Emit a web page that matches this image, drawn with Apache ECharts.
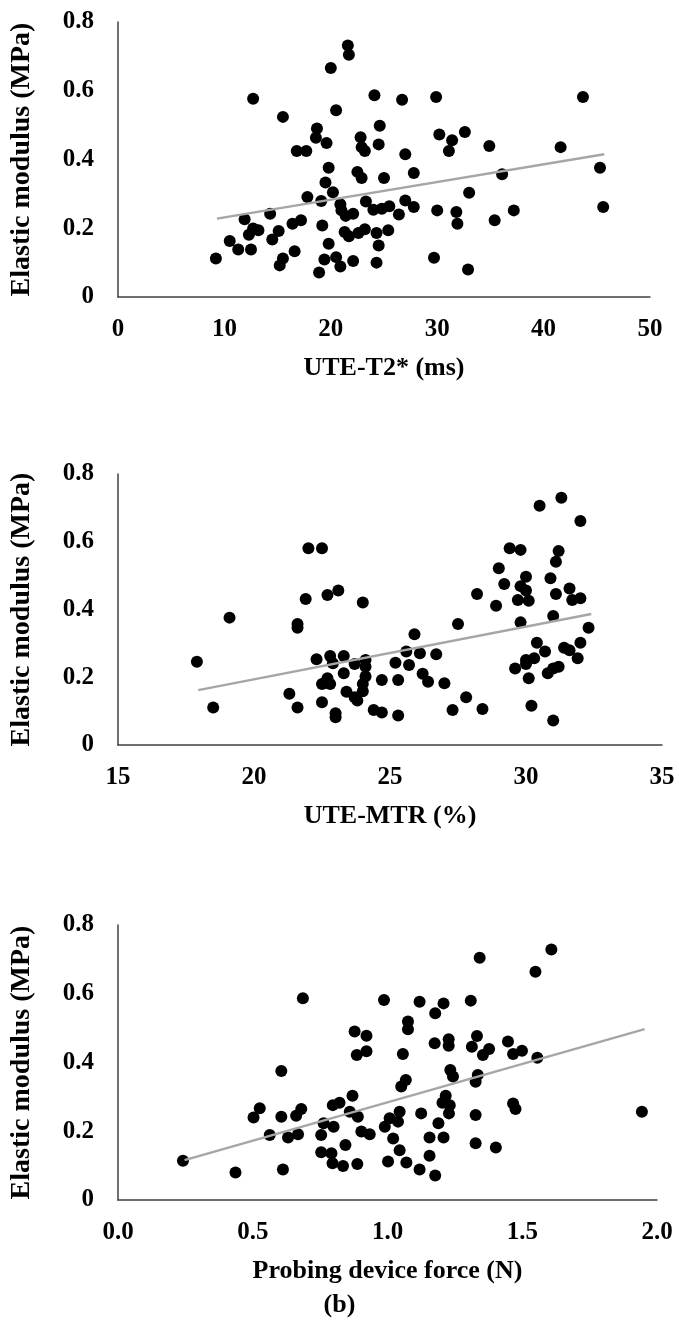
<!DOCTYPE html>
<html>
<head>
<meta charset="utf-8">
<title>Elastic modulus</title>
<script src="https://cdn.jsdelivr.net/npm/echarts@6/dist/echarts.min.js"></script>
<style>
    html, body { margin: 0; padding: 0; background: #fff; }
    #main { width: 679px; height: 1324px; }
</style>
</head>
<body>
<div id="main"></div>
<script>
// panel 1: UTE-T2* (ms) vs elastic modulus
var t2Points = [
    [21.6, 0.732], [21.7, 0.705], [20.0, 0.666], [12.7, 0.577], [24.1, 0.587], [20.5, 0.543],
    [15.5, 0.524], [24.6, 0.498], [18.7, 0.490], [18.6, 0.463], [19.6, 0.448], [16.8, 0.425],
    [17.7, 0.425], [22.8, 0.465], [22.9, 0.436], [23.2, 0.425], [24.5, 0.444], [19.8, 0.376],
    [22.5, 0.364], [22.9, 0.346], [25.0, 0.346], [19.5, 0.333], [20.2, 0.305], [17.8, 0.291],
    [19.1, 0.279], [20.9, 0.270], [21.0, 0.252], [21.4, 0.236], [22.1, 0.242], [23.3, 0.278],
    [24.0, 0.254], [24.8, 0.257], [25.5, 0.264], [11.9, 0.226], [14.3, 0.242], [16.4, 0.213],
    [17.2, 0.223], [19.2, 0.208], [21.3, 0.189], [21.7, 0.177], [22.6, 0.186], [23.2, 0.197],
    [24.3, 0.186], [25.4, 0.194], [12.7, 0.199], [13.2, 0.194], [12.3, 0.181], [15.1, 0.192],
    [14.5, 0.167], [10.5, 0.163], [11.3, 0.138], [12.5, 0.138], [19.8, 0.155], [24.5, 0.150],
    [9.2, 0.112], [16.6, 0.133], [15.5, 0.112], [15.2, 0.092], [19.4, 0.109], [20.5, 0.116],
    [20.9, 0.089], [22.1, 0.105], [24.3, 0.100], [18.9, 0.071],
    [26.7, 0.574], [29.9, 0.582], [43.7, 0.582], [30.2, 0.473], [31.4, 0.456], [31.1, 0.425],
    [32.6, 0.480], [27.0, 0.415], [34.9, 0.439], [41.6, 0.436], [27.8, 0.361], [36.1, 0.357],
    [45.3, 0.376], [33.0, 0.303], [26.4, 0.240], [27.0, 0.281], [27.8, 0.262], [30.0, 0.252],
    [31.8, 0.247], [31.9, 0.213], [35.4, 0.223], [37.2, 0.252], [45.6, 0.262], [29.7, 0.114],
    [32.9, 0.080]
];
var t2Trend = [[9.3, 0.228], [45.7, 0.415]];

// panel 2: UTE-MTR (%)
var mtrPoints = [
    [22.0, 0.581], [22.5, 0.581], [21.9, 0.431], [22.7, 0.443], [23.1, 0.456], [24.0, 0.421],
    [19.1, 0.376], [21.6, 0.357], [21.6, 0.346], [17.9, 0.246], [22.3, 0.253], [22.8, 0.263],
    [23.3, 0.263], [24.1, 0.251], [22.9, 0.241], [23.3, 0.212], [23.7, 0.239], [22.7, 0.197],
    [22.5, 0.180], [22.8, 0.180], [24.1, 0.231], [24.1, 0.202], [24.0, 0.180], [24.0, 0.159],
    [23.4, 0.157], [23.7, 0.141], [23.8, 0.131], [24.7, 0.192], [18.5, 0.111], [21.3, 0.151],
    [21.6, 0.111], [22.5, 0.126], [23.0, 0.094], [23.0, 0.082], [24.4, 0.103], [24.7, 0.096],
    [31.3, 0.730], [30.5, 0.706], [32.0, 0.661], [29.4, 0.581], [29.8, 0.576], [31.2, 0.573],
    [31.1, 0.541], [29.0, 0.522], [29.2, 0.475], [30.0, 0.497], [29.8, 0.469], [30.0, 0.456],
    [30.9, 0.492], [28.2, 0.446], [29.7, 0.428], [30.1, 0.426], [31.1, 0.446], [31.6, 0.462],
    [31.7, 0.428], [32.0, 0.433], [28.9, 0.411], [29.8, 0.362], [31.0, 0.381], [32.3, 0.346],
    [27.5, 0.357], [25.9, 0.327], [25.6, 0.276], [26.1, 0.271], [26.7, 0.268], [25.2, 0.243],
    [25.7, 0.236], [26.2, 0.210], [26.4, 0.187], [27.0, 0.182], [25.3, 0.192], [25.3, 0.087],
    [27.3, 0.103], [27.8, 0.141], [28.4, 0.106], [30.2, 0.116], [31.0, 0.072], [30.4, 0.302],
    [30.7, 0.276], [29.6, 0.226], [30.0, 0.251], [30.3, 0.256], [30.0, 0.239], [30.1, 0.197],
    [30.8, 0.212], [31.0, 0.226], [31.2, 0.231], [31.4, 0.287], [31.6, 0.280], [32.0, 0.302],
    [31.9, 0.256]
];
var mtrTrend = [[17.95, 0.162], [32.4, 0.387]];

// panel 3: probing device force (N)
var forcePoints = [
    [0.686, 0.587], [0.987, 0.582], [0.878, 0.490], [0.922, 0.478], [0.886, 0.422], [0.922, 0.433],
    [0.606, 0.375], [0.870, 0.303], [0.797, 0.276], [0.822, 0.283], [0.526, 0.267], [0.503, 0.240],
    [0.606, 0.242], [0.680, 0.265], [0.661, 0.245], [0.860, 0.257], [0.890, 0.242], [0.763, 0.223],
    [0.800, 0.213], [0.754, 0.189], [0.563, 0.189], [0.631, 0.182], [0.668, 0.191], [0.903, 0.199],
    [0.934, 0.191], [0.844, 0.160], [0.754, 0.139], [0.792, 0.136], [0.796, 0.107], [0.835, 0.099],
    [0.888, 0.105], [0.241, 0.114], [0.436, 0.080], [0.612, 0.089],
    [1.608, 0.729], [1.342, 0.705], [1.549, 0.664], [1.119, 0.577], [1.208, 0.572], [1.177, 0.543],
    [1.309, 0.580], [1.076, 0.519], [1.076, 0.497], [1.175, 0.456], [1.227, 0.468], [1.227, 0.449],
    [1.332, 0.477], [1.313, 0.446], [1.354, 0.422], [1.377, 0.439], [1.447, 0.461], [1.466, 0.425],
    [1.499, 0.434], [1.556, 0.414], [1.057, 0.425], [1.233, 0.378], [1.243, 0.359], [1.335, 0.364],
    [1.327, 0.344], [1.068, 0.349], [1.051, 0.330], [1.216, 0.303], [1.231, 0.276], [1.228, 0.252],
    [1.204, 0.283], [1.466, 0.281], [1.475, 0.265], [1.327, 0.247], [1.125, 0.252], [1.944, 0.257],
    [1.045, 0.257], [1.039, 0.228], [1.008, 0.238], [0.990, 0.213], [1.189, 0.223], [1.156, 0.182],
    [1.208, 0.182], [1.021, 0.179], [1.045, 0.145], [1.002, 0.112], [1.070, 0.109], [1.119, 0.089],
    [1.156, 0.129], [1.177, 0.071], [1.327, 0.165], [1.402, 0.153]
];
var forceTrend = [[0.247, 0.116], [1.954, 0.497]];

var xNames = ['UTE-T2* (ms)', 'UTE-MTR (%)', 'Probing device force (N)'];
var yName = 'Elastic modulus (MPa)';

var font = '"Liberation Serif", "Times New Roman", serif';
var axisColor = '#404040';

var myChart = echarts.init(document.getElementById('main'), null, { renderer: 'canvas' });

var makeX = function (idx, min, max, step, digits) {
    return {
        type: 'value', gridIndex: idx, min: min, max: max, interval: step,
        name: xNames[idx], nameLocation: 'middle', nameGap: 58,
        nameTextStyle: { fontFamily: font, fontWeight: 'bold', fontSize: 26, color: '#000' },
        axisLine: { onZero: false, lineStyle: { color: axisColor, width: 1.5 } },
        axisTick: { show: false },
        splitLine: { show: false },
        axisLabel: {
            margin: 20, fontFamily: font, fontWeight: 'bold', fontSize: 25, color: '#000',
            formatter: function (v) { return v.toFixed(digits); }
        }
    };
};
var makeY = function (idx) {
    return {
        type: 'value', gridIndex: idx, min: 0, max: 0.8, interval: 0.2,
        name: yName, nameLocation: 'middle', nameGap: 82, nameRotate: 90,
        nameTextStyle: { fontFamily: font, fontWeight: 'bold', fontSize: 28, color: '#000' },
        axisLine: { show: true, lineStyle: { color: axisColor, width: 1.5 } },
        axisTick: { show: false },
        splitLine: { show: false },
        axisLabel: {
            margin: 24, fontFamily: font, fontWeight: 'bold', fontSize: 25, color: '#000',
            formatter: function (v) { return v === 0 ? '0' : v.toFixed(1); }
        }
    };
};
var scatter = function (idx, data) {
    return {
        type: 'scatter', xAxisIndex: idx, yAxisIndex: idx, data: data,
        symbol: 'circle', symbolSize: 12, itemStyle: { color: '#000', opacity: 1 }, z: 3
    };
};
var trend = function (idx, data) {
    return {
        type: 'line', xAxisIndex: idx, yAxisIndex: idx, data: data,
        symbol: 'none', lineStyle: { color: '#a6a6a6', width: 2.5 }, z: 4
    };
};

var option = {
    backgroundColor: '#fff',
    animation: false,
    grid: [
        { left: 118, top: 22, width: 532, height: 275 },
        { left: 118, top: 474, width: 544, height: 271 },
        { left: 118, top: 925, width: 539, height: 275 }
    ],
    xAxis: [
        makeX(0, 0, 50, 10, 0),
        makeX(1, 15, 35, 5, 0),
        makeX(2, 0, 2, 0.5, 1)
    ],
    yAxis: [makeY(0), makeY(1), makeY(2)],
    graphic: [{
        type: 'text', left: 'center', top: 1292,
        style: { text: '(b)', font: 'bold 26px ' + font, fill: '#000' }
    }],
    series: [
        scatter(0, t2Points), trend(0, t2Trend),
        scatter(1, mtrPoints), trend(1, mtrTrend),
        scatter(2, forcePoints), trend(2, forceTrend)
    ]
};
myChart.setOption(option);
</script>
</body>
</html>
